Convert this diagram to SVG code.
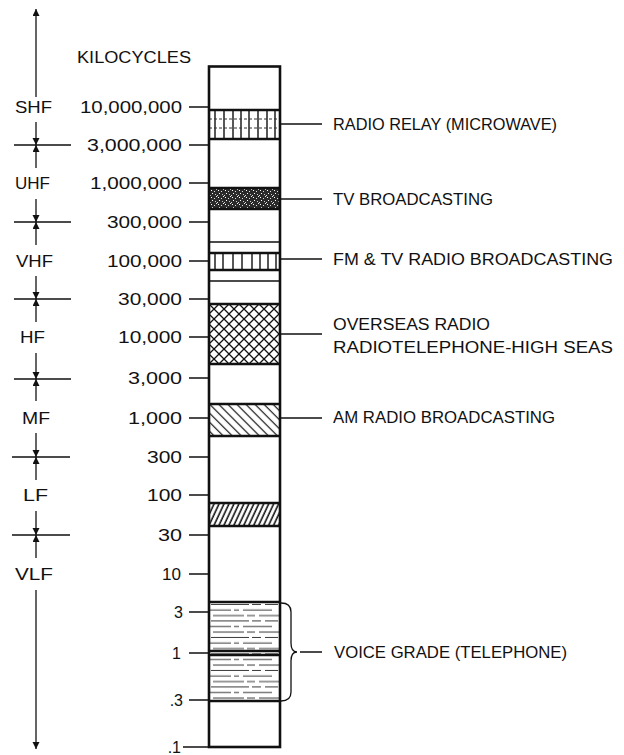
<svg xmlns="http://www.w3.org/2000/svg" width="624" height="755" viewBox="0 0 624 755">
<style>
text{font-family:"Liberation Sans",Arial,sans-serif;fill:#111;}
.lbl{font-size:16px;}
.num{font-size:16px;text-anchor:end;}
.band{font-size:17px;}
.ln{stroke:#111;stroke-width:1.3;fill:none;}
.thick{stroke:#111;stroke-width:2.5;fill:none;}
.hatch{stroke:#111;stroke-width:1.4;}
</style>
<defs>
<marker id="ah" markerUnits="userSpaceOnUse" markerWidth="8" markerHeight="9" refX="7" refY="3.5" orient="auto">
<path d="M0,0 L7,3.5 L0,7 Z" fill="#111"/>
</marker>
<pattern id="xh" patternUnits="userSpaceOnUse" x="209" y="304" width="10" height="10">
<path d="M0,0 L10,10 M10,0 L0,10" stroke="#111" stroke-width="1.3"/>
</pattern>
<pattern id="am" patternUnits="userSpaceOnUse" width="6.4" height="6.4" patternTransform="rotate(45)">
<line x1="0" y1="3.2" x2="6.4" y2="3.2" stroke="#111" stroke-width="1.2"/>
</pattern>
<pattern id="lf" patternUnits="userSpaceOnUse" width="4.5" height="10" patternTransform="rotate(25)">
<line x1="2" y1="0" x2="2" y2="10" stroke="#111" stroke-width="1.6"/>
</pattern>
<pattern id="vg" patternUnits="userSpaceOnUse" x="209" y="602" width="71" height="16.5">
<path d="M2,2.5H40 M43,2.5H52 M56,2.5H69 M0,8H22 M25,8H30 M34,8H63 M4,13.5H35 M38,13.5H46 M50,13.5H71" stroke="#333" stroke-width="1"/>
</pattern>
<pattern id="st" patternUnits="userSpaceOnUse" width="7" height="7">
<rect width="7" height="7" fill="#2a2a2a"/>
<rect x="1" y="1" width="1" height="1" fill="#fff"/>
<rect x="4" y="2" width="1" height="1" fill="#ddd"/>
<rect x="2" y="4" width="1" height="1" fill="#fff"/>
<rect x="5" y="5" width="1" height="1" fill="#ccc"/>
<rect x="6" y="0" width="1" height="1" fill="#eee"/>
<rect x="0" y="6" width="1" height="1" fill="#ddd"/>
</pattern>
</defs>

<g id="title"><text class="lbl" x="77" y="63" textLength="114" lengthAdjust="spacingAndGlyphs">KILOCYCLES</text></g>

<g id="scale">
<text class="num" x="182" y="113" textLength="102" lengthAdjust="spacingAndGlyphs">10,000,000</text>
<text class="num" x="182" y="151" textLength="95" lengthAdjust="spacingAndGlyphs">3,000,000</text>
<text class="num" x="182" y="189" textLength="92" lengthAdjust="spacingAndGlyphs">1,000,000</text>
<text class="num" x="182" y="228" textLength="75" lengthAdjust="spacingAndGlyphs">300,000</text>
<text class="num" x="182" y="267" textLength="75" lengthAdjust="spacingAndGlyphs">100,000</text>
<text class="num" x="182" y="305" textLength="64" lengthAdjust="spacingAndGlyphs">30,000</text>
<text class="num" x="182" y="343" textLength="64" lengthAdjust="spacingAndGlyphs">10,000</text>
<text class="num" x="182" y="384" textLength="54" lengthAdjust="spacingAndGlyphs">3,000</text>
<text class="num" x="182" y="424" textLength="54" lengthAdjust="spacingAndGlyphs">1,000</text>
<text class="num" x="182" y="463" textLength="35" lengthAdjust="spacingAndGlyphs">300</text>
<text class="num" x="182" y="501" textLength="35" lengthAdjust="spacingAndGlyphs">100</text>
<text class="num" x="182" y="541" textLength="24" lengthAdjust="spacingAndGlyphs">30</text>
<text class="num" x="181" y="580" textLength="19" lengthAdjust="spacingAndGlyphs">10</text>
<text class="num" x="183" y="618">3</text>
<text class="num" x="181" y="659">1</text>
<text class="num" x="183" y="706">.3</text>
<text class="num" x="181" y="753">.1</text>
<path class="ln" d="M189,107H209 M189,145H209 M189,183H209 M189,222H209 M189,261H209 M189,299H209 M189,337H209 M189,378H209 M189,418H209 M189,457H209 M189,495H209 M189,535H209 M189,574H209 M189,612H209 M189,653H209 M189,700H209 M183,747H209"/>
</g>

<g id="column">
<rect x="209" y="66.5" width="71" height="680.5" fill="#fff" stroke="none"/>
<g id="band-relay">
<path class="hatch" d="M215,110V139 M224,110V139 M233,110V139 M241,110V139 M249,110V139 M258,110V139 M267,110V139 M275,110V139"/>
<path d="M209,119H280 M209,128H280" stroke="#333" stroke-width="1" stroke-dasharray="3 2"/>
<path class="thick" d="M209,110H280 M209,139H280"/>
</g>
<g id="band-tv">
<rect x="209" y="188" width="71" height="21" fill="url(#st)"/>
<path class="thick" d="M209,188H280 M209,209H280"/>
</g>
<path class="ln" d="M209,242H280 M209,281H280"/>
<g id="band-fm">
<path class="hatch" d="M215,253V270 M223,253V270 M233,253V270 M242,253V270 M252,253V270 M260,253V270 M268,253V270 M276,253V270"/>
<path class="thick" d="M209,253H280 M209,270H280"/>
</g>
<g id="band-hf">
<rect x="209" y="304" width="71" height="60" fill="url(#xh)"/>
<path class="thick" d="M209,304H280 M209,364H280"/>
</g>
<g id="band-am">
<rect x="209" y="404" width="71" height="32" fill="url(#am)"/>
<path class="thick" d="M209,404H280 M209,436H280"/>
</g>
<g id="band-lf">
<rect x="209" y="503" width="71" height="23" fill="url(#lf)"/>
<path class="thick" d="M209,503H280 M209,526H280"/>
</g>
<g id="band-voice">
<rect x="209" y="602" width="71" height="99" fill="url(#vg)"/>
<path class="thick" d="M209,602H280 M209,701H280"/>
<path class="thick" d="M209,651H280" stroke-width="1.5"/>
<path class="thick" d="M209,655H280" stroke-width="1.5"/>
</g>
<rect x="209" y="66.5" width="71" height="680.5" fill="none" stroke="#111" stroke-width="2.6"/>
</g>

<g id="bands-left">
<text class="band" x="15" y="113" textLength="37" lengthAdjust="spacingAndGlyphs">SHF</text>
<text class="band" x="15" y="189" textLength="35" lengthAdjust="spacingAndGlyphs">UHF</text>
<text class="band" x="16" y="267" textLength="37" lengthAdjust="spacingAndGlyphs">VHF</text>
<text class="band" x="20" y="343" textLength="25" lengthAdjust="spacingAndGlyphs">HF</text>
<text class="band" x="22" y="424" textLength="28" lengthAdjust="spacingAndGlyphs">MF</text>
<text class="band" x="23" y="501" textLength="25" lengthAdjust="spacingAndGlyphs">LF</text>
<text class="band" x="15" y="580" textLength="38" lengthAdjust="spacingAndGlyphs">VLF</text>
</g>

<g id="connectors">
<line class="ln" x1="36" y1="97" x2="36" y2="9" marker-end="url(#ah)"/>
<line class="ln" x1="36" y1="590" x2="36" y2="749" marker-end="url(#ah)"/>
<g id="bounds">
<path class="ln" d="M14,145H71 M14,222H71 M14,299H71 M14,379H71 M12,457H70 M12,535H70"/>
<line class="ln" x1="36" y1="122" x2="36" y2="145" marker-end="url(#ah)"/>
<line class="ln" x1="36" y1="168" x2="36" y2="145" marker-end="url(#ah)"/>
<line class="ln" x1="36" y1="199" x2="36" y2="222" marker-end="url(#ah)"/>
<line class="ln" x1="36" y1="245" x2="36" y2="222" marker-end="url(#ah)"/>
<line class="ln" x1="36" y1="276" x2="36" y2="299" marker-end="url(#ah)"/>
<line class="ln" x1="36" y1="322" x2="36" y2="299" marker-end="url(#ah)"/>
<line class="ln" x1="36" y1="353" x2="36" y2="379" marker-end="url(#ah)"/>
<line class="ln" x1="36" y1="401" x2="36" y2="379" marker-end="url(#ah)"/>
<line class="ln" x1="36" y1="433" x2="36" y2="457" marker-end="url(#ah)"/>
<line class="ln" x1="36" y1="480" x2="36" y2="457" marker-end="url(#ah)"/>
<line class="ln" x1="36" y1="511" x2="36" y2="535" marker-end="url(#ah)"/>
<line class="ln" x1="36" y1="558" x2="36" y2="535" marker-end="url(#ah)"/>
</g>
<path class="ln" d="M281,124H322 M281,199H322 M281,259H322 M281,334H322 M281,418H322 M300,652H322"/>
<path class="ln" d="M281,603 Q291,603 291,612 L291,643 Q291,652 297,652 Q291,652 291,661 L291,692 Q291,701 281,701"/>
</g>

<g id="labels-right">
<text class="lbl" x="333" y="130" textLength="224" lengthAdjust="spacingAndGlyphs">RADIO RELAY (MICROWAVE)</text>
<text class="lbl" x="333" y="205" textLength="160" lengthAdjust="spacingAndGlyphs">TV BROADCASTING</text>
<text class="lbl" x="333" y="265" textLength="280" lengthAdjust="spacingAndGlyphs">FM &amp; TV RADIO BROADCASTING</text>
<text class="lbl" x="333" y="330" textLength="157" lengthAdjust="spacingAndGlyphs">OVERSEAS RADIO</text>
<text class="lbl" x="333" y="353" textLength="280" lengthAdjust="spacingAndGlyphs">RADIOTELEPHONE-HIGH SEAS</text>
<text class="lbl" x="333" y="423" textLength="222" lengthAdjust="spacingAndGlyphs">AM RADIO BROADCASTING</text>
<text class="lbl" x="334" y="658" textLength="233" lengthAdjust="spacingAndGlyphs">VOICE GRADE (TELEPHONE)</text>
</g>
</svg>
